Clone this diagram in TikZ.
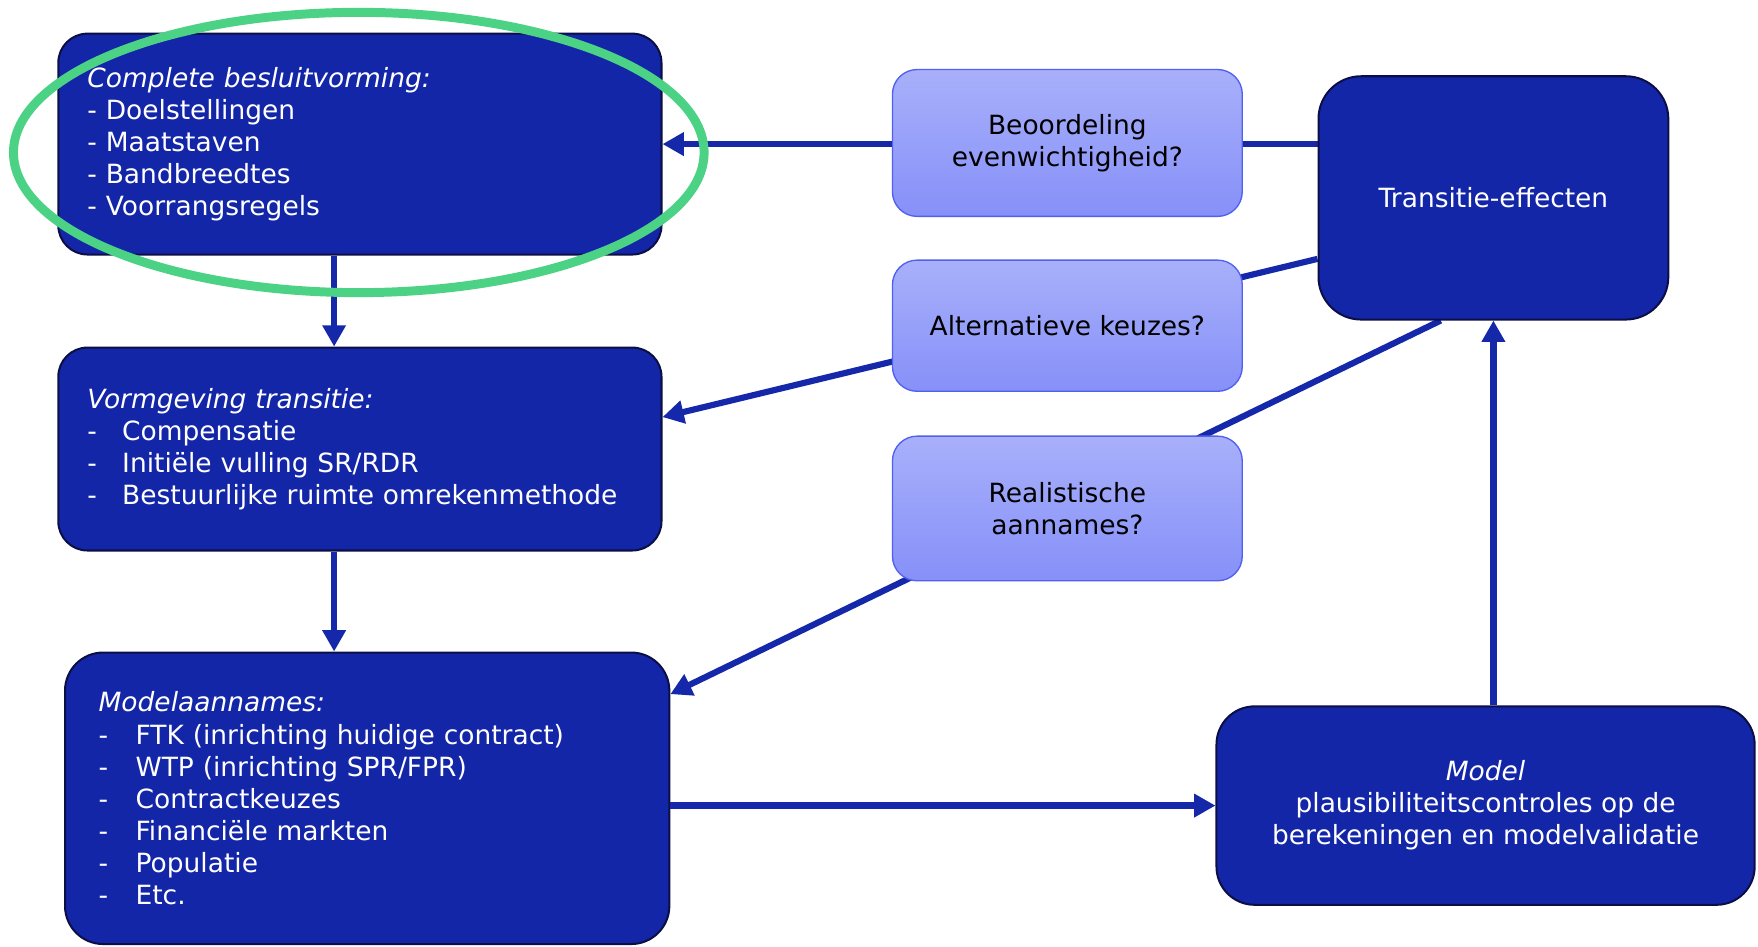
\documentclass[tikz,border=0pt]{standalone}
\usepackage{fontspec}
\setmainfont{DejaVu Sans}
\usetikzlibrary{arrows.meta,positioning,calc,shapes.geometric}
\definecolor{darkbox}{RGB}{20,38,168}
\definecolor{darkedge}{RGB}{12,14,70}
\definecolor{lighttop}{RGB}{168,176,250}
\definecolor{lightbot}{RGB}{134,144,248}
\definecolor{lightedge}{RGB}{80,96,240}
\definecolor{arrowcol}{RGB}{22,40,170}
\definecolor{ringgreen}{RGB}{76,210,132}
\pgfdeclarelayer{background}
\pgfsetlayers{background,main}
\tikzset{
  txt/.style={font=\fontsize{23.6}{28.6}\selectfont},
  darkbox/.style={txt, draw=darkedge, line width=1.8pt, fill=darkbox, text=white, rounded corners=#1},
  darkbox/.default=26pt,
  lightbox/.style={txt, draw=lightedge, line width=1.2pt, top color=lighttop, bottom color=lightbot, text=black, rounded corners=22pt, minimum width=312pt, align=center},
  conn/.style={draw=arrowcol, line width=5.5pt},
  arr/.style={conn, -{Triangle[width=20pt,length=19pt]}},
}
\newcommand{\itm}[1]{\makebox[31pt][l]{-}#1}
\newcommand{\itmc}[1]{\makebox[33pt][l]{-}#1}
\begin{document}
\begin{tikzpicture}[x=1pt,y=-1pt]
\useasboundingbox (0,0) rectangle (1568,844);
% dark boxes
\node[darkbox, minimum width=538pt, minimum height=197pt, text width=486pt, inner xsep=26pt, align=left] (A) at (321,128.5)
  {\textit{Complete besluitvorming:}\\- Doelstellingen\\- Maatstaven\\- Bandbreedtes\\- Voorrangsregels};
\node[darkbox, minimum width=538pt, minimum height=181pt, text width=486pt, inner xsep=26pt, align=left] (B) at (321,400.5)
  {\textit{Vormgeving transitie:}\\\itm{Compensatie}\\\itm{Initiële vulling SR/RDR}\\\itm{Bestuurlijke ruimte omrekenmethode}};
\node[darkbox=34pt, minimum width=539pt, minimum height=260pt, text width=479pt, inner xsep=30pt, align=left] (C) at (327.5,712)
  {\textit{Modelaannames:}\\\itmc{FTK (inrichting huidige contract)}\\\itmc{WTP (inrichting SPR/FPR)}\\\itmc{Contractkeuzes}\\\itmc{Financiële markten}\\\itmc{Populatie}\\\itmc{Etc.}};
\node[darkbox=34pt, minimum width=480pt, minimum height=177pt, align=center] (D) at (1325,718.5)
  {\textit{Model}\\plausibiliteitscontroles op de\\berekeningen en modelvalidatie};
\node[darkbox=38pt, minimum width=312pt, minimum height=217pt, align=center] (E) at (1332,176.5)
  {Transitie-effecten};
% light boxes
\node[lightbox, minimum height=131pt] (Q1) at (952,127.5) {Beoordeling\\evenwichtigheid?};
\node[lightbox, minimum height=117pt] (Q2) at (952,290.5) {Alternatieve keuzes?};
\node[lightbox, minimum height=129pt] (Q3) at (952,453.5) {Realistische\\aannames?};
% connectors
\begin{pgfonlayer}{background}
\draw[arr] (E.west |- A.east) -- (A.east);
\draw[arr] ([yshift=55pt]E.south west) -- ([yshift=28.5pt]B.east);
\draw[arr] ([xshift=-47pt]E.south) -- ([yshift=-38pt]C.north east);
\end{pgfonlayer}
\draw[arr] ([xshift=-23pt]A.south) -- ([xshift=-23pt]B.north);
\draw[arr] ([xshift=-23pt]B.south) -- ([xshift=-23pt]B.south |- C.north);
\draw[arr] (C.east |- D.west) -- (D.west);
\draw[arr] (D.north -| E.south) -- (E.south);
% green ring
\node[draw=ringgreen, line width=8pt, ellipse, minimum width=616pt, minimum height=250pt, inner sep=0pt] (ring) at (320,136) {};
\end{tikzpicture}
\end{document}
